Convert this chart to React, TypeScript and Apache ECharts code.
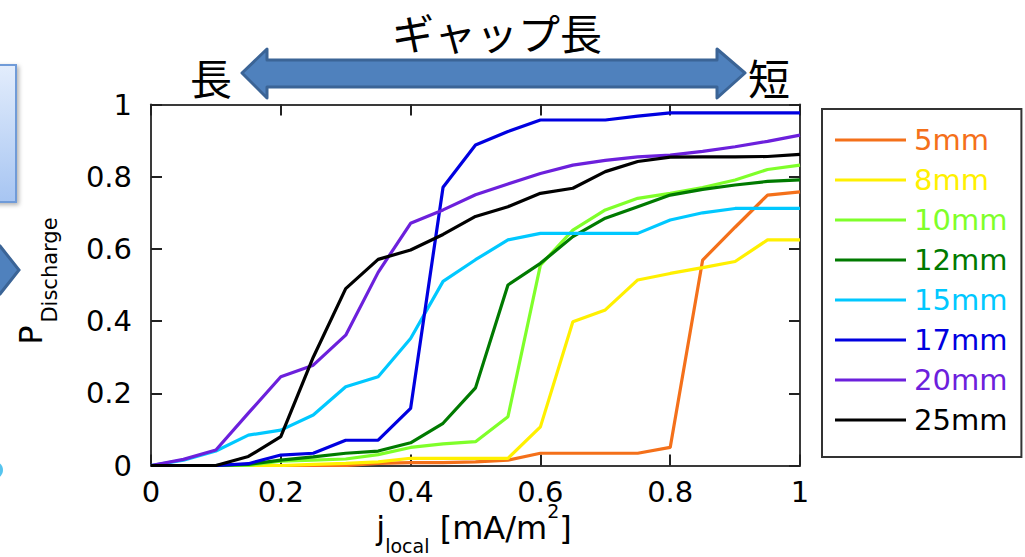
import React, { useEffect, useRef } from "react";
import * as echarts from "echarts";

const xs = [0, 0.05, 0.1, 0.15, 0.2, 0.25, 0.3, 0.35, 0.4, 0.45, 0.5, 0.55, 0.6, 0.65, 0.7, 0.75, 0.8, 0.85, 0.9, 0.95, 1.0];

const names = ["5mm", "8mm", "10mm", "12mm", "15mm", "17mm", "20mm", "25mm"];
const colors = ["#f4701a", "#fff000", "#7fff2a", "#007a00", "#00c8ff", "#0000e0", "#6c20dc", "#000000"];

const p5 = [0, 0, 0, 0, 0, 0, 0, 0.006, 0.008, 0.008, 0.01, 0.015, 0.034, 0.034, 0.034, 0.034, 0.05, 0.569, 0.66, 0.749, 0.758];
const p8 = [0, 0, 0, 0, 0, 0.003, 0.006, 0.01, 0.02, 0.02, 0.02, 0.02, 0.107, 0.398, 0.431, 0.514, 0.532, 0.548, 0.565, 0.625, 0.625];
const p10 = [0, 0, 0, 0, 0.012, 0.015, 0.018, 0.03, 0.05, 0.06, 0.066, 0.135, 0.555, 0.652, 0.708, 0.74, 0.754, 0.77, 0.791, 0.82, 0.832];
const p12 = [0, 0, 0, 0.003, 0.015, 0.024, 0.034, 0.04, 0.063, 0.117, 0.215, 0.5, 0.56, 0.634, 0.685, 0.717, 0.749, 0.765, 0.777, 0.787, 0.791];
const p15 = [0, 0.015, 0.04, 0.084, 0.098, 0.14, 0.218, 0.246, 0.352, 0.51, 0.57, 0.625, 0.643, 0.643, 0.643, 0.643, 0.68, 0.7, 0.712, 0.712, 0.712];
const p17 = [0, 0, 0, 0.005, 0.029, 0.034, 0.07, 0.07, 0.158, 0.771, 0.888, 0.925, 0.957, 0.957, 0.957, 0.968, 0.977, 0.977, 0.977, 0.977, 0.977];
const p20 = [0, 0.017, 0.043, 0.145, 0.246, 0.278, 0.361, 0.535, 0.671, 0.708, 0.75, 0.78, 0.809, 0.832, 0.845, 0.855, 0.86, 0.87, 0.883, 0.898, 0.915];
const p25 = [0, 0, 0, 0.025, 0.08, 0.3, 0.49, 0.571, 0.597, 0.64, 0.69, 0.717, 0.754, 0.768, 0.814, 0.842, 0.854, 0.855, 0.855, 0.856, 0.862];
const seriesValues = [p5, p8, p10, p12, p15, p17, p20, p25];

const redLineX = [0.003, 0.99];
const redLineY = [0.521, 0.521];

const tickFmt = (v: number) => String(Math.round(v * 10) / 10);

export default function App() {
  const ref = useRef<HTMLDivElement>(null);
  useEffect(() => {
    document.body.style.margin = "0";
    if (!ref.current) return;
    const chart = echarts.init(ref.current, null, { renderer: "svg" });
    const axisLine = { show: true, onZero: false, lineStyle: { color: "#3a3a3a", width: 2 } };
    const axisTick = { show: true, inside: true, length: 11, lineStyle: { color: "#222", width: 2 } };
    const labelStyle = { fontSize: 29, fontFamily: "DejaVu Sans", color: "#000" };
    const cjk = "Noto Sans CJK JP";
    const option: any = {
      animation: false,
      backgroundColor: "#fff",
      grid: { left: 151, right: 225, top: 104.5, bottom: 91.5, containLabel: false },
      xAxis: [
        {
          type: "value", min: 0, max: 1, interval: 0.2, position: "bottom",
          axisLine, axisTick, splitLine: { show: false },
          axisLabel: { ...labelStyle, margin: 12, formatter: tickFmt },
        },
        {
          type: "value", min: 0, max: 1, interval: 0.2, position: "top",
          axisLine, axisTick, splitLine: { show: false }, axisLabel: { show: false },
        },
      ],
      yAxis: [
        {
          type: "value", min: 0, max: 1, interval: 0.2, position: "left",
          axisLine, axisTick, splitLine: { show: false },
          axisLabel: { ...labelStyle, margin: 19, formatter: tickFmt },
        },
        {
          type: "value", min: 0, max: 1, interval: 0.2, position: "right",
          axisLine, axisTick, splitLine: { show: false }, axisLabel: { show: false },
        },
      ],
      legend: {
        orient: "vertical",
        left: 822,
        top: 109,
        selectedMode: false,
        icon: "rect",
        itemWidth: 71,
        itemHeight: 3,
        itemGap: 10,
        padding: [16, 14, 22, 13],
        borderColor: "#333",
        borderWidth: 2,
        backgroundColor: "#fff",
        textStyle: { fontSize: 29, fontFamily: "DejaVu Sans", lineHeight: 30, padding: [0, 0, 0, 3] },
        data: names.map((n, i) => ({ name: n, textStyle: { color: colors[i] } })),
      },
      series: [
        ...names.map((n, i) => ({
          name: n,
          type: "line",
          xAxisIndex: 0,
          yAxisIndex: 0,
          showSymbol: false,
          symbol: "none",
          color: colors[i],
          lineStyle: { color: colors[i], width: 3.2 },
          data: xs.map((x, j) => [x, seriesValues[i][j]]),
          z: 2,
        })),
        {
          name: "threshold",
          type: "line",
          showSymbol: false,
          symbol: "none",
          z: 5,
          lineStyle: { color: "#c0504d", width: 5, shadowColor: "rgba(0,0,0,0.35)", shadowBlur: 5, shadowOffsetY: 3 },
          data: redLineX.map((x, j) => [x, redLineY[j]]),
        },
      ],
      graphic: [
        {
          type: "rect", shape: { x: -10, y: 65, width: 26, height: 137 },
          style: {
            fill: new echarts.graphic.LinearGradient(0, 0, 0, 1, [
              { offset: 0, color: "#e3edfc" }, { offset: 1, color: "#a7c5f2" },
            ]),
            stroke: "#6f9bd8", lineWidth: 2, shadowColor: "rgba(0,0,0,0.3)", shadowBlur: 4, shadowOffsetX: 2, shadowOffsetY: 2,
          },
        },
        {
          type: "polygon", shape: { points: [[-10, 240], [0, 246], [19, 270], [0, 294], [-10, 300]] },
          style: { fill: "#4f81bd", stroke: "#3b6496", lineWidth: 3 },
        },
        { type: "ellipse", shape: { cx: -4, cy: 470, rx: 7, ry: 8 }, style: { fill: "#56c4ee" } },
        {
          type: "polygon",
          shape: {
            points: [[242, 73], [267, 49], [267, 60], [717, 60], [717, 49], [745, 73], [717, 98], [717, 87], [267, 87], [267, 98]],
          },
          style: { fill: "#4f81bd", stroke: "#3b6496", lineWidth: 3, lineJoin: "round" },
        },
        { type: "text", x: 497, y: 31, style: { text: "ギャップ長", font: `42px '${cjk}'`, fill: "#000", align: "center", verticalAlign: "middle" } },
        { type: "text", x: 211, y: 76, style: { text: "長", font: `42px '${cjk}'`, fill: "#000", align: "center", verticalAlign: "middle" } },
        { type: "text", x: 769, y: 76, style: { text: "短", font: `42px '${cjk}'`, fill: "#000", align: "center", verticalAlign: "middle" } },
        { type: "text", x: 31, y: 335, rotation: Math.PI / 2, style: { text: "P", font: "32px 'DejaVu Sans'", fill: "#000", align: "center", verticalAlign: "middle" } },
        { type: "text", x: 50, y: 270, rotation: Math.PI / 2, style: { text: "Discharge", font: "21px 'DejaVu Sans'", fill: "#000", align: "center", verticalAlign: "middle" } },
        {
          type: "text", x: 474, y: 528,
          style: {
            text: "j{sub|local} [mA/m{sup|2}]",
            fontFamily: "DejaVu Sans", fontSize: 32, lineHeight: 54, fill: "#000",
            align: "center", verticalAlign: "middle",
            rich: {
              sub: { fontFamily: "DejaVu Sans", fontSize: 19, lineHeight: 17, verticalAlign: "bottom", fill: "#000" },
              sup: { fontFamily: "DejaVu Sans", fontSize: 19, lineHeight: 36, verticalAlign: "top", fill: "#000" },
            },
          },
        },
      ],
    };
    chart.setOption(option);
    return () => chart.dispose();
  }, []);
  return <div ref={ref} style={{ width: 1025, height: 557 }} />;
}
